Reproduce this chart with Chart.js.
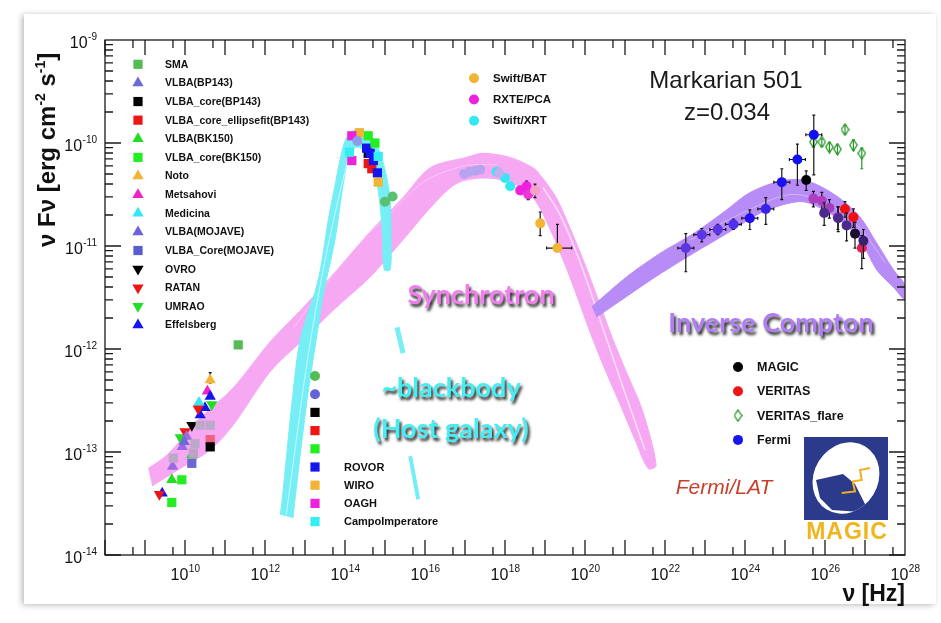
<!DOCTYPE html>
<html>
<head>
<meta charset="utf-8">
<script src="https://cdn.jsdelivr.net/npm/chart.js@4.4.1/dist/chart.umd.min.js"></script>
<style>
html, body { margin: 0; padding: 0; background: #fff; }
#card { position: absolute; left: 24px; top: 14px; width: 912px; height: 590px; background: #fff;
        box-shadow: -2px 1px 6px rgba(0,0,0,0.28); }
#sed { position: absolute; left: 0; top: 0; }
</style>
</head>
<body>
<div id="card"></div>
<canvas id="sed" width="941" height="623"></canvas>
<script>
// all values are log10: frequency in Hz, nuFnu in erg cm^-2 s^-1
var xTickExps = [10, 12, 14, 16, 18, 20, 22, 24, 26, 28];
var yTickExps = [-9, -10, -11, -12, -13, -14];

// radio
var smaNu = [11.33], smaF = [-11.96];
var vlbaBP143Nu = [9.98], vlbaBP143F = [-12.90];
var vlbaCoreBP143Nu = [10.63], vlbaCoreBP143F = [-12.95];
var vlbaEllipseNu = [10.63], vlbaEllipseF = [-12.88];
var vlbaBK150Nu = [10.17, 9.67], vlbaBK150F = [-13.03, -13.27];
var vlbaCoreBK150Nu = [9.92, 9.67], vlbaCoreBK150F = [-13.27, -13.49];
var notoNu = [10.63], notoF = [-12.30], notoFLo = [-12.33], notoFHi = [-12.23];
var metsahoviNu = [10.56], metsahoviF = [-12.41];
var medicinaNu = [10.35], medicinaF = [-12.52];
var mojaveNu = [10.04, 9.93, 9.69], mojaveF = [-12.85, -12.95, -13.14];
var mojaveCoreNu = [10.38, 10.63, 10.25, 9.71, 10.21, 10.17];
var mojaveCoreF = [-12.74, -12.74, -12.92, -13.06, -13.01, -13.11];
var ovroNu = [10.17], ovroF = [-12.74];
var ratanNu = [10.33, 10.00, 9.36], ratanF = [-12.58, -12.80, -13.41];
var umraoNu = [10.67, 9.88], umraoF = [-12.54, -12.86];
var effelsbergNu = [10.63, 10.50, 10.38, 9.43], effelsbergF = [-12.46, -12.57, -12.64, -13.40];

// optical / UV
var optGreenCircNu = [15.00, 15.19], optGreenCircF = [-10.57, -10.52];
var optBlueCircNu = [14.31, 16.98, 17.10, 17.25, 17.38, 17.85];
var optBlueCircF = [-9.98, -10.30, -10.28, -10.27, -10.26, -10.29];
var optBlackNu = [14.58], optBlackF = [-10.10];
var optRedNu = [14.58, 14.67], optRedF = [-10.20, -10.25];
var optGreenNu = [14.58, 14.75], optGreenF = [-9.93, -10.00];
var rovorNu = [14.54, 14.63, 14.71, 14.81], rovorF = [-10.05, -10.10, -10.17, -10.29];
var wiroNu = [14.36, 14.83], wiroF = [-9.90, -10.38];
var oaghNu = [14.17, 14.17], oaghF = [-9.93, -10.17];
var campoNu = [14.11, 14.83], campoF = [-10.09, -10.13];

// X-ray
var xrtNu = [17.79, 18.00, 18.13], xrtF = [-10.28, -10.34, -10.42];
var pcaNu = [18.38, 18.54, 18.58, 18.75], pcaF = [-10.46, -10.42, -10.50, -10.46];
var pcaFLo = [-10.50, -10.46, -10.55, -10.53], pcaFHi = [-10.42, -10.37, -10.45, -10.40];
var batNu = [18.88, 19.31], batF = [-10.78, -11.02];
var batFLo = [-10.90, -11.02], batFHi = [-10.67, -10.79];
var batNuLo = [18.80, 19.04], batNuHi = [18.88, 19.67];

// gamma-ray
var fermiNu = [22.52, 22.92, 23.32, 23.71, 24.12, 24.52, 24.92, 25.31, 25.72];
var fermiF = [-11.02, -10.89, -10.84, -10.79, -10.73, -10.64, -10.38, -10.16, -9.92];
var fermiFLo = [-11.25, -10.96, -10.89, -10.84, -10.84, -10.79, -10.55, -10.41, -10.31];
var fermiFHi = [-10.88, -10.83, -10.79, -10.74, -10.65, -10.53, -10.25, -10.01, -9.73];
var fermiNuLo = [22.32, 22.72, 23.12, 23.51, 23.92, 24.32, 24.72, 25.11, 25.52];
var fermiNuHi = [22.72, 23.12, 23.52, 23.91, 24.32, 24.72, 25.12, 25.51, 25.92];
var magicNu = [25.53, 25.98, 26.33, 26.54, 26.75, 26.96];
var magicF = [-10.36, -10.68, -10.73, -10.80, -10.88, -10.95];
var magicFLo = [-10.46, -10.80, -10.86, -10.95, -11.02, -11.12];
var magicFHi = [-10.27, -10.58, -10.62, -10.68, -10.77, -10.84];
var veritasNu = [25.71, 25.92, 26.11, 26.32, 26.50, 26.71, 26.92];
var veritasF = [-10.54, -10.56, -10.63, -10.72, -10.64, -10.72, -11.02];
var veritasFLo = [-10.62, -10.65, -10.73, -10.84, -10.72, -10.82, -11.22];
var veritasFHi = [-10.47, -10.48, -10.55, -10.62, -10.57, -10.64, -10.90];
var flareNu = [25.71, 25.92, 26.11, 26.31, 26.50, 26.71, 26.92];
var flareF = [-9.99, -9.99, -10.04, -10.06, -9.87, -10.02, -10.10];
var flareFLo = [-10.04, -10.03, -10.08, -10.10, -9.91, -10.07, -10.25];
var flareFHi = [-9.95, -9.96, -10.00, -10.02, -9.83, -9.97, -10.05];

// model bands: upper edge left->right, lower edge right->left
var syncUpNu = [9.08, 9.55, 10.38, 11.20, 12.13, 12.95, 13.80, 14.63, 15.45, 16.13, 17.03, 17.45,
                18.13, 18.70, 18.88, 19.28, 19.63, 19.98, 20.33, 20.68, 21.03, 21.43, 21.78];
var syncUpF = [-13.16, -13.03, -12.67, -12.38, -11.93, -11.60, -11.23, -10.86, -10.53, -10.24, -10.14, -10.10,
               -10.14, -10.24, -10.31, -10.53, -10.83, -11.16, -11.52, -11.89, -12.22, -12.59, -13.13];
var syncLoNu = [21.58, 21.25, 20.88, 20.50, 20.13, 19.83, 19.53, 19.13, 18.70, 18.13, 17.45, 16.80,
                16.20, 15.45, 14.63, 13.80, 12.95, 12.13, 11.20, 10.63, 9.88, 9.18];
var syncLoF = [-13.16, -12.88, -12.54, -12.20, -11.84, -11.52, -11.21, -10.84, -10.53, -10.38, -10.34, -10.39,
               -10.60, -10.94, -11.30, -11.59, -11.91, -12.22, -12.74, -12.98, -13.16, -13.33];
// lighter streaks running inside the bands
var syncStreak1Nu = [18.95, 19.38, 19.88, 20.38, 20.93, 21.50];
var syncStreak1F = [-10.43, -10.70, -11.16, -11.72, -12.35, -12.98];
var syncStreak2Nu = [12.70, 13.50, 14.30, 15.20, 16.00, 17.00, 17.80];
var syncStreak2F = [-11.80, -11.38, -11.00, -10.65, -10.37, -10.22, -10.21];

var icUpNu = [20.17, 21.04, 21.88, 22.71, 23.54, 24.04, 24.54, 25.04, 25.46, 25.88, 26.38, 26.88, 27.29, 27.71, 28.00];
var icUpF = [-11.59, -11.30, -11.07, -10.88, -10.65, -10.50, -10.41, -10.36, -10.36, -10.42, -10.54, -10.72, -10.97, -11.23, -11.38];
var icLoNu = [28.00, 27.71, 27.29, 26.88, 26.38, 25.88, 25.46, 25.04, 24.38, 23.54, 22.71, 21.88, 21.04, 20.29];
var icLoF = [-11.52, -11.40, -11.23, -10.94, -10.75, -10.63, -10.57, -10.59, -10.68, -10.88, -11.07, -11.27, -11.49, -11.69];
var icStreakNu = [22.63, 23.88, 25.13, 26.13, 26.88, 27.50];
var icStreakF = [-10.94, -10.69, -10.50, -10.60, -10.83, -11.16];

var hostOutNu = [12.38, 12.43, 12.68, 12.88, 13.33, 13.58, 13.75, 13.93, 14.08, 14.30, 14.53, 14.80, 15.00, 15.13, 15.15, 15.13];
var hostOutF = [-13.61, -13.46, -12.50, -11.91, -11.33, -10.75, -10.41, -10.07, -9.92, -9.87, -9.90, -10.02, -10.26, -10.55, -10.94, -11.23];
var hostInNu = [14.98, 14.93, 14.83, 14.68, 14.48, 14.30, 14.18, 14.05, 13.93, 13.75, 13.48, 13.28, 13.05, 12.75, 12.70];
var hostInF = [-11.23, -10.84, -10.46, -10.21, -10.07, -10.04, -10.07, -10.21, -10.46, -10.94, -11.43, -11.91, -12.50, -13.46, -13.64];
var hostStreakNu = [12.53, 12.75, 12.95, 13.18, 13.50, 13.83, 14.13];
var hostStreakF = [-13.61, -12.98, -12.40, -11.82, -11.14, -10.55, -10.07];
var hostBit1Nu = [15.30, 15.45], hostBit1F = [-11.79, -12.04];
var hostBit2Nu = [15.63, 15.83], hostBit2F = [-13.04, -13.46];

var FONT = '"Liberation Sans", Arial, sans-serif';

var STYLE = {
  'SMA': ['rect', '#55bb55'],
  'VLBA(BP143)': ['triangle', '#6b6bd6'],
  'VLBA_core(BP143)': ['rect', '#000000'],
  'VLBA_core_ellipsefit(BP143)': ['rect', '#ee1515'],
  'VLBA(BK150)': ['triangle', '#22dd22'],
  'VLBA_core(BK150)': ['rect', '#22ee22'],
  'Noto': ['triangle', '#f2b435'],
  'Metsahovi': ['triangle', '#ee22cc'],
  'Medicina': ['triangle', '#33e8f2'],
  'VLBA(MOJAVE)': ['triangle', '#6b63d6'],
  'VLBA_Core(MOJAVE)': ['rect', '#5b5bd2'],
  'OVRO': ['triangleDown', '#000000'],
  'RATAN': ['triangleDown', '#ee1515'],
  'UMRAO': ['triangleDown', '#22dd22'],
  'Effelsberg': ['triangle', '#1515ee'],
  'Swift/BAT': ['circle', '#f2b435'],
  'RXTE/PCA': ['circle', '#ee22dd'],
  'Swift/XRT': ['circle', '#33e8f2'],
  'opt-green-circle': ['circle', '#55bb55'],
  'opt-blue-circle': ['circle', '#6464d4'],
  'opt-black': ['rect', '#000000'],
  'opt-red': ['rect', '#ee1515'],
  'opt-green': ['rect', '#22ee22'],
  'ROVOR': ['rect', '#1515ee'],
  'WIRO': ['rect', '#f2b435'],
  'OAGH': ['rect', '#ee22dd'],
  'CampoImperatore': ['rect', '#33eef2'],
  'MAGIC': ['circle', '#000000'],
  'VERITAS': ['circle', '#ee1515'],
  'VERITAS_flare': ['diamond', '#2a9a2a'],
  'Fermi': ['circle', '#1515ee']
};

// open diamond used for the flare points
var diamondImg = document.createElement('canvas');
diamondImg.width = 9; diamondImg.height = 13;
(function () {
  var c = diamondImg.getContext('2d');
  c.strokeStyle = '#2a9a2a'; c.lineWidth = 1.3;
  c.beginPath(); c.moveTo(4.5, 0.8); c.lineTo(8.2, 6.5); c.lineTo(4.5, 12.2); c.lineTo(0.8, 6.5); c.closePath(); c.stroke();
})();

function P(nu, f) {
  return nu.map(function (v, i) { return { x: Math.pow(10, v), y: Math.pow(10, f[i]) }; });
}

function pointSet(name, nu, f, extra) {
  var st = STYLE[name], shape = st[0];
  var r = shape === 'circle' ? 5 : 6.5;
  var ds = {
    type: 'scatter', label: name, data: P(nu, f), order: 1,
    pointStyle: shape === 'triangleDown' ? 'triangle' : (shape === 'diamond' ? diamondImg : shape),
    pointRotation: shape === 'triangleDown' ? 180 : 0,
    pointRadius: r, pointHoverRadius: r,
    pointBackgroundColor: st[1], pointBorderColor: st[1], pointBorderWidth: 0
  };
  return Object.assign(ds, extra || {});
}

function band(upNu, upF, loNu, loF, color, order) {
  return {
    type: 'line', label: '', data: P(upNu.concat(loNu), upF.concat(loF)),
    fill: 'shape', backgroundColor: color, borderColor: color, borderWidth: 1,
    pointRadius: 0, pointHoverRadius: 0, tension: 0.3, order: order
  };
}

function strand(nu, f, color, width, order) {
  return {
    type: 'line', label: '', data: P(nu, f), borderColor: color, borderWidth: width,
    pointRadius: 0, pointHoverRadius: 0, tension: 0.3, order: order
  };
}

function colored(list) { return { pointBackgroundColor: list, pointBorderColor: list }; }

var datasets = [
  band(syncUpNu, syncUpF, syncLoNu, syncLoF, '#f6a8f2', 9),
  strand(syncStreak1Nu, syncStreak1F, 'rgba(255,255,255,0.65)', 1.5, 8.5),
  strand(syncStreak2Nu, syncStreak2F, 'rgba(255,255,255,0.35)', 1, 8.5),
  band(icUpNu, icUpF, icLoNu, icLoF, '#b88cf6', 8),
  strand(icStreakNu, icStreakF, 'rgba(255,255,255,0.35)', 1, 7.5),
  band(hostOutNu, hostOutF, hostInNu, hostInF, '#76eef6', 7),
  strand(hostStreakNu, hostStreakF, 'rgba(255,255,255,0.6)', 1, 6.5),
  strand(hostBit1Nu, hostBit1F, '#76eef6', 5, 7),
  strand(hostBit2Nu, hostBit2F, '#76eef6', 4, 7),

  pointSet('SMA', smaNu, smaF),
  pointSet('VLBA_Core(MOJAVE)', mojaveCoreNu, mojaveCoreF,
    colored(['#bca8c8', '#bca8c8', '#bca8c8', '#bca8c8', '#c0a4c8', '#6a68d0'])),
  pointSet('VLBA_core(BP143)', vlbaCoreBP143Nu, vlbaCoreBP143F),
  pointSet('VLBA_core_ellipsefit(BP143)', vlbaEllipseNu, vlbaEllipseF, colored(['#f0607a'])),
  pointSet('VLBA(BK150)', vlbaBK150Nu, vlbaBK150F),
  pointSet('VLBA_core(BK150)', vlbaCoreBK150Nu, vlbaCoreBK150F),
  pointSet('VLBA(BP143)', vlbaBP143Nu, vlbaBP143F),
  pointSet('VLBA(MOJAVE)', mojaveNu, mojaveF, colored(['#9a6ae0', '#9a6ae0', '#9a6ae0'])),
  pointSet('OVRO', ovroNu, ovroF),
  pointSet('RATAN', ratanNu, ratanF),
  pointSet('UMRAO', umraoNu, umraoF),
  pointSet('Medicina', medicinaNu, medicinaF),
  pointSet('Effelsberg', effelsbergNu, effelsbergF),
  pointSet('Metsahovi', metsahoviNu, metsahoviF),
  pointSet('Noto', notoNu, notoF, { err: { lo: notoFLo, hi: notoFHi } }),

  pointSet('opt-green-circle', optGreenCircNu, optGreenCircF, colored(['#58c070', '#58c070'])),
  pointSet('opt-blue-circle', optBlueCircNu, optBlueCircF,
    colored(['#8c9ce8', '#b6a4f0', '#b6a4f0', '#b6a4f0', '#b6a4f0', '#c0b0f0'])),
  pointSet('CampoImperatore', campoNu, campoF),
  pointSet('OAGH', oaghNu, oaghF),
  pointSet('WIRO', wiroNu, wiroF),
  pointSet('opt-green', optGreenNu, optGreenF),
  pointSet('ROVOR', rovorNu, rovorF),
  pointSet('opt-red', optRedNu, optRedF),
  pointSet('opt-black', optBlackNu, optBlackF),

  pointSet('Swift/XRT', xrtNu, xrtF),
  pointSet('RXTE/PCA', pcaNu, pcaF,
    Object.assign({ err: { lo: pcaFLo, hi: pcaFHi } }, colored(['#f020e0', '#f020e0', '#e838d8', '#f4a0c8']))),
  pointSet('Swift/BAT', batNu, batF, { err: { lo: batFLo, hi: batFHi, nuLo: batNuLo, nuHi: batNuHi } }),

  pointSet('Fermi', fermiNu, fermiF, Object.assign({ err: { lo: fermiFLo, hi: fermiFHi, nuLo: fermiNuLo, nuHi: fermiNuHi } },
    colored(['#5a36e6', '#5a36e6', '#5a36e6', '#5030ee', '#2010f0', '#3a22ee', '#1a10f0', '#1010f0', '#1010f0']))),
  pointSet('MAGIC', magicNu, magicF, Object.assign({ err: { lo: magicFLo, hi: magicFHi } },
    colored(['#000000', '#4a2a8a', '#4a2a8a', '#4a2a8a', '#1a1030', '#3a2070']))),
  pointSet('VERITAS', veritasNu, veritasF, Object.assign({ err: { lo: veritasFLo, hi: veritasFHi } },
    colored(['#b03cc0', '#b03cc0', '#a040c0', '#9a40c8', '#f01010', '#f01010', '#e02050']))),
  pointSet('VERITAS_flare', flareNu, flareF, { err: { lo: flareFLo, hi: flareFHi, color: '#2a9a2a' } })
];

// error bars go under each point set
var errorBars = {
  id: 'errorBars',
  beforeDatasetDraw: function (chart, args) {
    var ds = chart.data.datasets[args.index];
    if (!ds.err) return;
    var ctx = chart.ctx, xs = chart.scales.x, ys = chart.scales.y, e = ds.err;
    ctx.save();
    ctx.strokeStyle = e.color || '#151515';
    ctx.lineWidth = 1.2;
    ctx.beginPath();
    args.meta.data.forEach(function (pt, i) {
      var x = pt.x, y = pt.y;
      var y1 = ys.getPixelForValue(Math.pow(10, e.lo[i])), y2 = ys.getPixelForValue(Math.pow(10, e.hi[i]));
      ctx.moveTo(x, y1); ctx.lineTo(x, y2);
      ctx.moveTo(x - 1.5, y1); ctx.lineTo(x + 1.5, y1);
      ctx.moveTo(x - 1.5, y2); ctx.lineTo(x + 1.5, y2);
      if (e.nuLo) {
        var x1 = xs.getPixelForValue(Math.pow(10, e.nuLo[i])), x2 = xs.getPixelForValue(Math.pow(10, e.nuHi[i]));
        ctx.moveTo(x1, y); ctx.lineTo(x2, y);
        ctx.moveTo(x1, y - 1.5); ctx.lineTo(x1, y + 1.5);
        ctx.moveTo(x2, y - 1.5); ctx.lineTo(x2, y + 1.5);
      }
    });
    ctx.stroke();
    ctx.restore();
  }
};

function marker(ctx, name, x, y) {
  var st = STYLE[name], shape = st[0], c = st[1];
  ctx.save();
  ctx.fillStyle = c;
  ctx.beginPath();
  if (shape === 'rect') {
    ctx.rect(x - 4.6, y - 4.6, 9.2, 9.2);
  } else if (shape === 'circle') {
    ctx.arc(x, y, 5, 0, Math.PI * 2);
  } else if (shape === 'diamond') {
    ctx.drawImage(diamondImg, x - 4.5, y - 6.5);
  } else {
    var s = shape === 'triangle' ? 1 : -1, r = 6.5;
    ctx.moveTo(x, y - s * r);
    ctx.lineTo(x + r * 0.866, y + s * r * 0.5);
    ctx.lineTo(x - r * 0.866, y + s * r * 0.5);
    ctx.closePath();
  }
  ctx.fill();
  ctx.restore();
}

var legendBoxes = [
  { mx: 138, tx: 165, y0: 64.3, dy: 18.62, font: 'bold 10.5px ' + FONT, items: [
    ['SMA', 'SMA'], ['VLBA(BP143)', 'VLBA(BP143)'], ['VLBA_core(BP143)', 'VLBA_core(BP143)'],
    ['VLBA_core_ellipsefit(BP143)', 'VLBA_core_ellipsefit(BP143)'], ['VLBA(BK150)', 'VLBA(BK150)'],
    ['VLBA_core(BK150)', 'VLBA_core(BK150)'], ['Noto', 'Noto'], ['Metsahovi', 'Metsahovi'],
    ['Medicina', 'Medicina'], ['VLBA(MOJAVE)', 'VLBA(MOJAVE)'], ['VLBA_Core(MOJAVE)', 'VLBA_Core(MOJAVE)'],
    ['OVRO', 'OVRO'], ['RATAN', 'RATAN'], ['UMRAO', 'UMRAO'], ['Effelsberg', 'Effelsberg'] ] },
  { mx: 474, tx: 493, y0: 78.3, dy: 21.2, font: 'bold 11.5px ' + FONT, items: [
    ['Swift/BAT', 'Swift/BAT'], ['RXTE/PCA', 'RXTE/PCA'], ['Swift/XRT', 'Swift/XRT'] ] },
  { mx: 315, tx: 344, y0: 376, dy: 18.2, font: 'bold 11px ' + FONT, items: [
    ['opt-green-circle', ''], ['opt-blue-circle', ''], ['opt-black', ''], ['opt-red', ''], ['opt-green', ''],
    ['ROVOR', 'ROVOR'], ['WIRO', 'WIRO'], ['OAGH', 'OAGH'], ['CampoImperatore', 'CampoImperatore'] ] },
  { mx: 738, tx: 757, y0: 367, dy: 24.3, font: 'bold 12.5px ' + FONT, items: [
    ['MAGIC', 'MAGIC'], ['VERITAS', 'VERITAS'], ['VERITAS_flare', 'VERITAS_flare'], ['Fermi', 'Fermi'] ] }
];

function shadowText(ctx, txt, x, y, color) {
  ctx.save();
  ctx.shadowColor = 'rgba(0,0,0,0.85)';
  ctx.shadowBlur = 3;
  ctx.shadowOffsetX = 2;
  ctx.shadowOffsetY = 3;
  ctx.fillStyle = color;
  ctx.fillText(txt, x, y);
  ctx.restore();
}

function drawMagicLogo(ctx) {
  ctx.save();
  ctx.fillStyle = '#2b3a8a';
  ctx.fillRect(804, 437, 84, 83);
  ctx.beginPath();
  ctx.ellipse(846, 478, 32, 37, 0.55, 0, Math.PI * 2);
  ctx.fillStyle = '#ffffff';
  ctx.fill();
  ctx.clip();
  ctx.fillStyle = '#2b3a8a';
  ctx.beginPath();
  ctx.moveTo(816, 480); ctx.lineTo(843, 474); ctx.lineTo(855, 484); ctx.lineTo(866, 506);
  ctx.lineTo(860, 512); ctx.lineTo(832, 510); ctx.lineTo(820, 498); ctx.closePath();
  ctx.fill();
  ctx.restore();
  ctx.save();
  ctx.strokeStyle = '#f0b020';
  ctx.lineWidth = 2;
  ctx.beginPath();
  ctx.moveTo(841.7, 493); ctx.lineTo(855, 491.5); ctx.lineTo(852.7, 481.5); ctx.lineTo(861.7, 480);
  ctx.lineTo(860, 470); ctx.lineTo(870, 468);
  ctx.stroke();
  ctx.fillStyle = '#f2b41c';
  ctx.font = 'bold 23px ' + FONT;
  ctx.textAlign = 'center';
  ctx.textBaseline = 'alphabetic';
  ctx.letterSpacing = '1px';
  ctx.fillText('MAGIC', 847, 539);
  ctx.restore();
}

var decorations = {
  id: 'decorations',
  afterDraw: function (chart) {
    var ctx = chart.ctx, a = chart.chartArea, xs = chart.scales.x, ys = chart.scales.y;
    ctx.save();

    // frame and ticks on all four sides
    ctx.strokeStyle = '#1a1a1a';
    ctx.lineWidth = 1.3;
    ctx.strokeRect(a.left, a.top, a.right - a.left, a.bottom - a.top);
    ctx.beginPath();
    for (var e = 8; e < 28; e++) {
      [1, 5].forEach(function (m) {
        var px = xs.getPixelForValue(m * Math.pow(10, e));
        var len = m === 1 ? 15 : 8;
        ctx.moveTo(px, a.bottom); ctx.lineTo(px, a.bottom - len);
        ctx.moveTo(px, a.top); ctx.lineTo(px, a.top + len);
      });
    }
    for (e = -14; e < -9; e++) {
      for (var m = 1; m < 10; m++) {
        var py = ys.getPixelForValue(m * Math.pow(10, e));
        var l = m === 1 ? 16 : 8;
        ctx.moveTo(a.left, py); ctx.lineTo(a.left + l, py);
        ctx.moveTo(a.right, py); ctx.lineTo(a.right - l, py);
      }
    }
    ctx.stroke();

    // tick labels as 10^n
    ctx.fillStyle = '#111';
    ctx.textBaseline = 'alphabetic';
    ctx.textAlign = 'left';
    xTickExps.forEach(function (n) {
      var px = xs.getPixelForValue(Math.pow(10, n));
      ctx.font = '16px ' + FONT;
      var w1 = ctx.measureText('10').width;
      ctx.font = '10px ' + FONT;
      var w2 = ctx.measureText(String(n)).width;
      var x0 = px - (w1 + w2) / 2;
      ctx.font = '16px ' + FONT;
      ctx.fillText('10', x0, a.bottom + 25);
      ctx.font = '10px ' + FONT;
      ctx.fillText(String(n), x0 + w1 + 0.5, a.bottom + 17);
    });
    ctx.textAlign = 'right';
    yTickExps.forEach(function (n) {
      var py = ys.getPixelForValue(Math.pow(10, n));
      var lab = '-' + String(-n);
      ctx.font = '10px ' + FONT;
      var w2 = ctx.measureText(lab).width;
      ctx.fillText(lab, 97, py);
      ctx.font = '16px ' + FONT;
      ctx.fillText('10', 96.5 - w2, py + 8);
    });

    // axis titles
    ctx.save();
    ctx.translate(55, 247);
    ctx.rotate(-Math.PI / 2);
    ctx.textAlign = 'left';
    var cx = 0;
    function part(t, f, dy) { ctx.font = f; ctx.fillText(t, cx, dy); cx += ctx.measureText(t).width; }
    part('\u03bd F\u03bd [erg cm', 'bold 24px ' + FONT, 0);
    part('-2', 'bold 14px ' + FONT, -10);
    part(' s', 'bold 24px ' + FONT, 0);
    part('-1', 'bold 14px ' + FONT, -10);
    part(']', 'bold 24px ' + FONT, 0);
    ctx.restore();
    ctx.font = 'bold 23px ' + FONT;
    ctx.textAlign = 'right';
    ctx.fillText('\u03bd [Hz]', 905, 601);

    // legends
    legendBoxes.forEach(function (box) {
      ctx.font = box.font;
      ctx.textAlign = 'left';
      ctx.textBaseline = 'middle';
      box.items.forEach(function (it, i) {
        var y = box.y0 + i * box.dy;
        marker(ctx, it[0], box.mx, y);
        ctx.fillStyle = '#111';
        ctx.fillText(it[1], box.tx, y + 0.5);
      });
    });

    // source name
    ctx.fillStyle = '#1a1a1a';
    ctx.textAlign = 'center';
    ctx.textBaseline = 'middle';
    ctx.font = '24px ' + FONT;
    ctx.fillText('Markarian 501', 726, 81);
    ctx.fillText('z=0.034', 727, 113);

    // component labels
    ctx.font = 'bold 27px Lato, ' + FONT;
    shadowText(ctx, 'Synchrotron', 481, 295, '#f27cf0');
    shadowText(ctx, 'Inverse Compton', 771, 323, '#b07ef4');
    shadowText(ctx, '~blackbody', 451, 388, '#44eef2');
    shadowText(ctx, '(Host galaxy)', 451, 429, '#44eef2');

    ctx.font = 'italic 21px ' + FONT;
    ctx.fillStyle = '#c8402a';
    ctx.fillText('Fermi/LAT', 724, 488);

    drawMagicLogo(ctx);
    ctx.restore();
  }
};

new Chart(document.getElementById('sed').getContext('2d'), {
  type: 'scatter',
  data: { datasets: datasets },
  options: {
    responsive: false,
    animation: false,
    devicePixelRatio: 1,
    layout: { padding: { left: 105, right: 36, top: 40, bottom: 68 } },
    plugins: { legend: { display: false }, tooltip: { enabled: false } },
    scales: {
      x: { type: 'logarithmic', min: 1e8, max: 1e28, display: false },
      y: { type: 'logarithmic', min: 1e-14, max: 1e-9, display: false }
    }
  },
  plugins: [errorBars, decorations]
});
</script>
</body>
</html>
